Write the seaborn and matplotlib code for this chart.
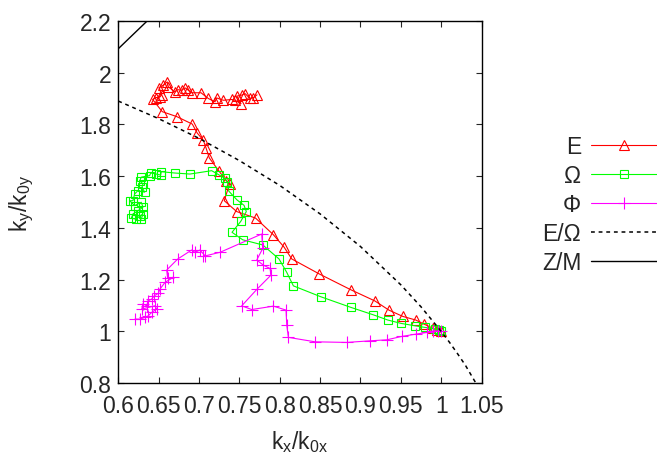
import numpy as np
import pandas as pd
import seaborn as sns
from matplotlib import pyplot as plt

# E trajectory (red triangles)
e_x = [1.0, 0.995, 0.99, 0.9788, 0.9685, 0.9524, 0.9354, 0.9177, 0.888, 0.849, 0.8149, 0.8053,
       0.792, 0.770, 0.7467, 0.7313, 0.7378, 0.7335, 0.7244, 0.7128, 0.7087, 0.7053, 0.6979,
       0.6917, 0.6724, 0.6545, 0.6426, 0.6463, 0.6517, 0.6538, 0.6504, 0.6558, 0.6607, 0.662,
       0.6703, 0.6736, 0.6786, 0.6827, 0.6867, 0.6910, 0.7025, 0.7115, 0.7198, 0.7219, 0.7301,
       0.7405, 0.7446, 0.7520, 0.7467, 0.7529, 0.7570, 0.7632, 0.7673, 0.7719]
e_y = [1.0, 1.004, 1.012, 1.028, 1.044, 1.058, 1.082, 1.118, 1.161, 1.222, 1.280, 1.326,
       1.374, 1.438, 1.463, 1.505, 1.570, 1.583, 1.621, 1.670, 1.709, 1.739, 1.766,
       1.801, 1.830, 1.849, 1.896, 1.903, 1.906, 1.915, 1.942, 1.951, 1.964, 1.945,
       1.925, 1.934, 1.932, 1.941, 1.932, 1.922, 1.922, 1.900, 1.887, 1.902, 1.893,
       1.896, 1.893, 1.880, 1.909, 1.913, 1.919, 1.900, 1.903, 1.914]

# Omega trajectory (green squares)
om_x = [1.0, 0.997, 0.9924, 0.98, 0.9677, 0.9503, 0.9338, 0.916, 0.888, 0.8508, 0.8169, 0.8087,
        0.7991, 0.779, 0.7541, 0.7409, 0.7517, 0.7586, 0.7558, 0.7471, 0.7369, 0.7353, 0.7316,
        0.7252, 0.7157, 0.6888, 0.6699, 0.6533, 0.6525, 0.6471, 0.6401, 0.6389, 0.6285, 0.6265,
        0.6306, 0.6294, 0.6327, 0.6244, 0.6203, 0.6182, 0.6141, 0.6203, 0.6285, 0.6306, 0.6244,
        0.6182, 0.6161, 0.6223, 0.6265, 0.6306, 0.6285]
om_y = [1.0, 1.004, 1.009, 1.0155, 1.0217, 1.031, 1.044, 1.064, 1.093, 1.134, 1.176, 1.228,
        1.280, 1.334, 1.354, 1.383, 1.425, 1.463, 1.487, 1.508, 1.542, 1.579, 1.592,
        1.604, 1.621, 1.608, 1.612, 1.617, 1.604, 1.608, 1.612, 1.602, 1.596, 1.582,
        1.570, 1.557, 1.538, 1.544, 1.531, 1.505, 1.505, 1.486, 1.499, 1.480, 1.466,
        1.454, 1.437, 1.434, 1.445, 1.454, 1.434]

# Phi trajectory (magenta pluses)
phi_x = [1.0, 0.996, 0.9903, 0.9822, 0.9689, 0.9512, 0.9326, 0.9119, 0.883, 0.8437, 0.8107,
         0.8087, 0.8078, 0.7921, 0.7653, 0.7529, 0.7715, 0.7892, 0.788, 0.7797, 0.7715, 0.7789,
         0.7777, 0.726, 0.7053, 0.7074, 0.7012, 0.695, 0.6909, 0.6736, 0.66, 0.6612, 0.6682,
         0.6579, 0.6517, 0.6496, 0.6446, 0.6414, 0.6372, 0.6352, 0.631, 0.629, 0.6455, 0.6476,
         0.6414, 0.6372, 0.6331, 0.6269, 0.6207]
phi_y = [1.0, 1.001, 1.0024, 0.996, 0.9897, 0.9807, 0.9676, 0.9637, 0.9575, 0.9599, 0.977,
         1.0245, 1.0824, 1.0977, 1.0845, 1.0988, 1.162, 1.2176, 1.2431, 1.2562, 1.2756, 1.3204,
         1.3763, 1.3056, 1.29, 1.2924, 1.3145, 1.3056, 1.3145, 1.2797, 1.2371, 1.2062, 1.2089,
         1.1896, 1.1636, 1.147, 1.1378, 1.125, 1.1184, 1.099, 1.1056, 1.0863, 1.099, 1.0863,
         1.0735, 1.0604, 1.0542, 1.0476, 1.0476]

# E/Omega boundary curve (dashed)
eo_x = [0.6, 0.65, 0.7, 0.75, 0.8, 0.85, 0.9, 0.95, 0.975, 1.0, 1.01, 1.02, 1.03, 1.043]
eo_y = [1.890, 1.822, 1.746, 1.660, 1.564, 1.454, 1.328, 1.180, 1.095, 1.0, 0.959, 0.915, 0.869, 0.8]

# Z/M boundary (solid)
zm_x = [0.6, 0.618, 0.636]
zm_y = [2.092, 2.146, 2.2]

FS = 16.5

sns.set_style('ticks')
plt.rcParams['font.family'] = ['Liberation Sans', 'DejaVu Sans']
plt.rcParams['font.size'] = FS

fig = plt.figure(figsize=(6.57, 4.64), dpi=100)
ax = fig.add_axes([0.18, 0.172, 0.553, 0.781])

sns.lineplot(x=e_x, y=e_y, sort=False, estimator=None, ax=ax, color='#ff0000', lw=0.8,
             marker='^', markersize=6.5, markerfacecolor='none', markeredgecolor='#ff0000',
             markeredgewidth=0.8, label='E')
sns.lineplot(x=om_x, y=om_y, sort=False, estimator=None, ax=ax, color='#00ff00', lw=0.8,
             marker='s', markersize=6, markerfacecolor='none', markeredgecolor='#00ff00',
             markeredgewidth=0.8, label='Ω')
sns.lineplot(x=phi_x, y=phi_y, sort=False, estimator=None, ax=ax, color='#ff00ff', lw=0.8,
             marker='+', markersize=8, markeredgecolor='#ff00ff', markeredgewidth=0.8,
             label='Φ')
sns.lineplot(x=eo_x, y=eo_y, sort=False, estimator=None, ax=ax, color='black', lw=1.1,
             linestyle=(0, (2.5, 2.5)), label='E/Ω')
sns.lineplot(x=zm_x, y=zm_y, sort=False, estimator=None, ax=ax, color='black', lw=1.0,
             label='Z/M')

ax.set_xlim(0.6, 1.05)
ax.set_ylim(0.8, 2.2)
ax.set_xticks(np.arange(0.6, 1.0501, 0.05))
ax.set_yticks(np.arange(0.8, 2.2001, 0.2))
ax.set_xticklabels(['%g' % round(v, 2) for v in np.arange(0.6, 1.0501, 0.05)])
ax.set_yticklabels(['%g' % round(v, 1) for v in np.arange(0.8, 2.2001, 0.2)])
ax.tick_params(direction='in', length=4.5, width=0.8, top=True, right=True, labelsize=FS)
ax.tick_params(axis='x', pad=8)
ax.tick_params(axis='y', pad=5)
for s in ax.spines.values():
    s.set_linewidth(1.0)
    s.set_color('black')

ax.set_xlabel(r'$\mathregular{k_x/k_{0x}}$', fontsize=FS, labelpad=8)
ax.set_ylabel(r'$\mathregular{k_y/k_{0y}}$', fontsize=FS, labelpad=31)

leg = ax.legend(loc='upper right', bbox_to_anchor=(1.0, 0.707), bbox_transform=fig.transFigure,
                frameon=False, markerfirst=False, handlelength=2.9, handletextpad=0.4,
                labelspacing=0.26, borderpad=0, borderaxespad=0, fontsize=FS)

fig.savefig('out.png', dpi=100)
